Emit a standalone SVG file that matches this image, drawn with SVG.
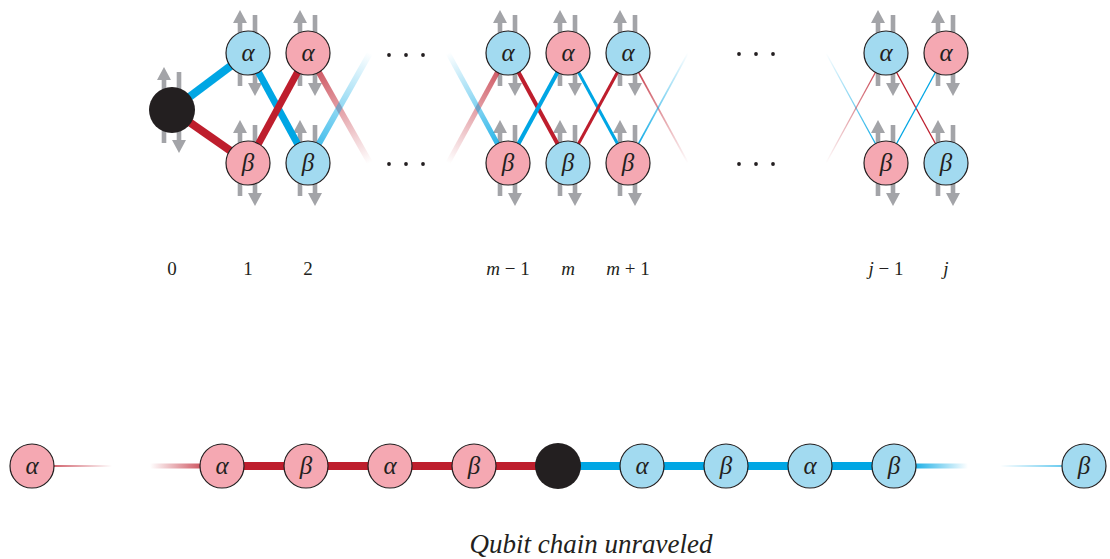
<svg xmlns="http://www.w3.org/2000/svg" width="1110" height="559" viewBox="0 0 1110 559" font-family="'Liberation Serif', 'Times New Roman', serif">
<style>
.nb{fill:#a2daf0;stroke:#231f20;stroke-width:1.2}
.nr{fill:#f5a8b2;stroke:#231f20;stroke-width:1.2}
.blk{fill:#231f20}
.g{font-style:italic;font-size:25px;fill:#231f20;text-anchor:middle}
.lab{font-size:19px;fill:#231f20;text-anchor:middle}
.it{font-style:italic}
.cap{font-style:italic;font-size:27px;fill:#231f20;text-anchor:middle}
.ar{fill:#a3a4a8}
.lb{stroke:#00a6e4;fill:none}
.lr{stroke:#be1e2d;fill:none}
.dot{fill:#231f20}
</style>
<defs>
<g id="arr">
<rect class="ar" x="-10.3" y="-33" width="4.6" height="66"/>
<polygon class="ar" points="-15,-30 -8,-43 -1,-30"/>
<rect class="ar" x="4.7" y="-38" width="4.6" height="69"/>
<polygon class="ar" points="0,30 7,43 14,30"/>
</g>
<linearGradient id="gf1" gradientUnits="userSpaceOnUse" x1="308" y1="53" x2="370" y2="163"><stop offset="0.2" stop-color="#be1e2d" stop-opacity="0.7"/><stop offset="1" stop-color="#be1e2d" stop-opacity="0"/></linearGradient>
<linearGradient id="gf2" gradientUnits="userSpaceOnUse" x1="308" y1="163" x2="370" y2="53"><stop offset="0.2" stop-color="#00a6e4" stop-opacity="0.7"/><stop offset="1" stop-color="#00a6e4" stop-opacity="0"/></linearGradient>
<linearGradient id="gf3" gradientUnits="userSpaceOnUse" x1="448" y1="163" x2="508" y2="53"><stop offset="0" stop-color="#be1e2d" stop-opacity="0"/><stop offset="0.8" stop-color="#be1e2d" stop-opacity="0.7"/></linearGradient>
<linearGradient id="gf4" gradientUnits="userSpaceOnUse" x1="448" y1="53" x2="508" y2="163"><stop offset="0" stop-color="#00a6e4" stop-opacity="0"/><stop offset="0.8" stop-color="#00a6e4" stop-opacity="0.8"/></linearGradient>
<linearGradient id="gf5" gradientUnits="userSpaceOnUse" x1="628" y1="53" x2="688" y2="163"><stop offset="0.2" stop-color="#be1e2d" stop-opacity="0.8"/><stop offset="1" stop-color="#be1e2d" stop-opacity="0"/></linearGradient>
<linearGradient id="gf6" gradientUnits="userSpaceOnUse" x1="628" y1="163" x2="688" y2="53"><stop offset="0.2" stop-color="#00a6e4" stop-opacity="0.9"/><stop offset="1" stop-color="#00a6e4" stop-opacity="0"/></linearGradient>
<linearGradient id="gf7" gradientUnits="userSpaceOnUse" x1="826" y1="53" x2="886" y2="163"><stop offset="0" stop-color="#00a6e4" stop-opacity="0"/><stop offset="0.8" stop-color="#00a6e4" stop-opacity="0.9"/></linearGradient>
<linearGradient id="gf8" gradientUnits="userSpaceOnUse" x1="826" y1="163" x2="886" y2="53"><stop offset="0" stop-color="#be1e2d" stop-opacity="0"/><stop offset="0.8" stop-color="#be1e2d" stop-opacity="0.8"/></linearGradient>
<linearGradient id="gb1" gradientUnits="userSpaceOnUse" x1="53" y1="0" x2="112" y2="0"><stop offset="0" stop-color="#be1e2d" stop-opacity="0.7"/><stop offset="1" stop-color="#be1e2d" stop-opacity="0"/></linearGradient>
<linearGradient id="gb2" gradientUnits="userSpaceOnUse" x1="150" y1="0" x2="202" y2="0"><stop offset="0" stop-color="#be1e2d" stop-opacity="0"/><stop offset="1" stop-color="#be1e2d" stop-opacity="0.75"/></linearGradient>
<linearGradient id="gb3" gradientUnits="userSpaceOnUse" x1="914" y1="0" x2="968" y2="0"><stop offset="0" stop-color="#00a6e4" stop-opacity="0.9"/><stop offset="1" stop-color="#00a6e4" stop-opacity="0"/></linearGradient>
<linearGradient id="gb4" gradientUnits="userSpaceOnUse" x1="1000" y1="0" x2="1064" y2="0"><stop offset="0" stop-color="#00a6e4" stop-opacity="0"/><stop offset="1" stop-color="#00a6e4" stop-opacity="0.8"/></linearGradient>
</defs>

<g id="spins">
<use href="#arr" x="172" y="110"/>
<use href="#arr" x="248" y="53"/><use href="#arr" x="248" y="163"/>
<use href="#arr" x="308" y="53"/><use href="#arr" x="308" y="163"/>
<use href="#arr" x="508" y="53"/><use href="#arr" x="508" y="163"/>
<use href="#arr" x="568" y="53"/><use href="#arr" x="568" y="163"/>
<use href="#arr" x="628" y="53"/><use href="#arr" x="628" y="163"/>
<use href="#arr" x="886" y="53"/><use href="#arr" x="886" y="163"/>
<use href="#arr" x="946" y="53"/><use href="#arr" x="946" y="163"/>
</g>

<g id="connectors">
<line class="lb" x1="172" y1="110" x2="248" y2="53" stroke-width="8"/>
<line class="lr" x1="172" y1="110" x2="248" y2="163" stroke-width="8"/>
<line class="lb" x1="248" y1="53" x2="308" y2="163" stroke-width="7"/>
<line class="lr" x1="248" y1="163" x2="308" y2="53" stroke-width="7"/>
<line x1="308" y1="53" x2="370" y2="163" stroke="url(#gf1)" stroke-width="6"/>
<line x1="308" y1="163" x2="370" y2="53" stroke="url(#gf2)" stroke-width="6"/>
<line x1="448" y1="163" x2="508" y2="53" stroke="url(#gf3)" stroke-width="5"/>
<line x1="448" y1="53" x2="508" y2="163" stroke="url(#gf4)" stroke-width="5"/>
<line class="lr" x1="508" y1="53" x2="568" y2="163" stroke-width="4"/>
<line class="lb" x1="508" y1="163" x2="568" y2="53" stroke-width="4"/>
<line class="lb" x1="568" y1="53" x2="628" y2="163" stroke-width="3"/>
<line class="lr" x1="568" y1="163" x2="628" y2="53" stroke-width="3"/>
<line x1="628" y1="53" x2="688" y2="163" stroke="url(#gf5)" stroke-width="1.6"/>
<line x1="628" y1="163" x2="688" y2="53" stroke="url(#gf6)" stroke-width="1.6"/>
<line x1="826" y1="53" x2="886" y2="163" stroke="url(#gf7)" stroke-width="1.3"/>
<line x1="826" y1="163" x2="886" y2="53" stroke="url(#gf8)" stroke-width="1.3"/>
<line class="lr" x1="886" y1="53" x2="946" y2="163" stroke-width="1.3"/>
<line class="lb" x1="886" y1="163" x2="946" y2="53" stroke-width="1.3"/>

<line x1="53" y1="466" x2="112" y2="466" stroke="url(#gb1)" stroke-width="2"/>
<line x1="150" y1="466" x2="202" y2="466" stroke="url(#gb2)" stroke-width="5"/>
<line class="lr" x1="222" y1="466" x2="558" y2="466" stroke-width="8"/>
<line class="lb" x1="558" y1="466" x2="894" y2="466" stroke-width="8"/>
<line x1="914" y1="466" x2="968" y2="466" stroke="url(#gb3)" stroke-width="5"/>
<line x1="1000" y1="466" x2="1064" y2="466" stroke="url(#gb4)" stroke-width="1.6"/>
</g>

<g id="n0"><circle class="blk" cx="172" cy="110" r="23"/></g>
<g id="n1a"><circle class="nb" cx="248" cy="53" r="22"/><text class="g" x="248" y="61">α</text></g>
<g id="n1b"><circle class="nr" cx="248" cy="163" r="22"/><text class="g" x="248" y="171">β</text></g>
<g id="n2a"><circle class="nr" cx="308" cy="53" r="22"/><text class="g" x="308" y="61">α</text></g>
<g id="n2b"><circle class="nb" cx="308" cy="163" r="22"/><text class="g" x="308" y="171">β</text></g>
<g id="nm1a"><circle class="nb" cx="508" cy="53" r="22"/><text class="g" x="508" y="61">α</text></g>
<g id="nm1b"><circle class="nr" cx="508" cy="163" r="22"/><text class="g" x="508" y="171">β</text></g>
<g id="nma"><circle class="nr" cx="568" cy="53" r="22"/><text class="g" x="568" y="61">α</text></g>
<g id="nmb"><circle class="nb" cx="568" cy="163" r="22"/><text class="g" x="568" y="171">β</text></g>
<g id="nmp1a"><circle class="nb" cx="628" cy="53" r="22"/><text class="g" x="628" y="61">α</text></g>
<g id="nmp1b"><circle class="nr" cx="628" cy="163" r="22"/><text class="g" x="628" y="171">β</text></g>
<g id="nj1a"><circle class="nb" cx="886" cy="53" r="22"/><text class="g" x="886" y="61">α</text></g>
<g id="nj1b"><circle class="nr" cx="886" cy="163" r="22"/><text class="g" x="886" y="171">β</text></g>
<g id="nja"><circle class="nr" cx="946" cy="53" r="22"/><text class="g" x="946" y="61">α</text></g>
<g id="njb"><circle class="nb" cx="946" cy="163" r="22"/><text class="g" x="946" y="171">β</text></g>

<g id="dots">
<circle class="dot" cx="389" cy="55" r="1.9"/><circle class="dot" cx="406" cy="55" r="1.9"/><circle class="dot" cx="423" cy="55" r="1.9"/>
<circle class="dot" cx="389" cy="164" r="1.9"/><circle class="dot" cx="406" cy="164" r="1.9"/><circle class="dot" cx="423" cy="164" r="1.9"/>
<circle class="dot" cx="739" cy="54" r="1.9"/><circle class="dot" cx="756" cy="54" r="1.9"/><circle class="dot" cx="773" cy="54" r="1.9"/>
<circle class="dot" cx="739" cy="164" r="1.9"/><circle class="dot" cx="756" cy="164" r="1.9"/><circle class="dot" cx="773" cy="164" r="1.9"/>
</g>

<g id="labels">
<text class="lab" x="172" y="275">0</text>
<text class="lab" x="248" y="275">1</text>
<text class="lab" x="308" y="275">2</text>
<text class="lab" x="508" y="275"><tspan class="it">m</tspan> − 1</text>
<text class="lab it" x="568" y="275">m</text>
<text class="lab" x="628" y="275"><tspan class="it">m</tspan> + 1</text>
<text class="lab" x="886" y="275"><tspan class="it">j</tspan> − 1</text>
<text class="lab it" x="946" y="275">j</text>
</g>

<g id="b1"><circle class="nr" cx="32" cy="466" r="22"/><text class="g" x="32" y="474">α</text></g>
<g id="b2"><circle class="nr" cx="222" cy="466" r="22"/><text class="g" x="222" y="474">α</text></g>
<g id="b3"><circle class="nr" cx="306" cy="466" r="22"/><text class="g" x="306" y="474">β</text></g>
<g id="b4"><circle class="nr" cx="390" cy="466" r="22"/><text class="g" x="390" y="474">α</text></g>
<g id="b5"><circle class="nr" cx="474" cy="466" r="22"/><text class="g" x="474" y="474">β</text></g>
<g id="b0"><circle class="blk" cx="558" cy="466" r="23"/></g>
<g id="b6"><circle class="nb" cx="642" cy="466" r="22"/><text class="g" x="642" y="474">α</text></g>
<g id="b7"><circle class="nb" cx="726" cy="466" r="22"/><text class="g" x="726" y="474">β</text></g>
<g id="b8"><circle class="nb" cx="810" cy="466" r="22"/><text class="g" x="810" y="474">α</text></g>
<g id="b9"><circle class="nb" cx="894" cy="466" r="22"/><text class="g" x="894" y="474">β</text></g>
<g id="b10"><circle class="nb" cx="1084" cy="466" r="22"/><text class="g" x="1084" y="474">β</text></g>

<text class="cap" x="591" y="553">Qubit chain unraveled</text>
</svg>
